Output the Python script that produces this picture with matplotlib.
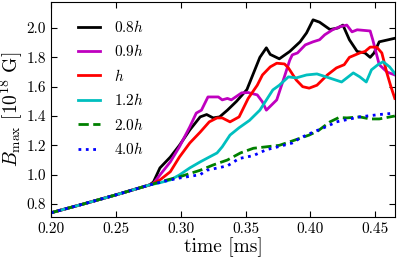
import numpy as np
import matplotlib
matplotlib.use('Agg')
from matplotlib import pyplot as plt

plt.rcParams['font.family'] = 'serif'
plt.rcParams['font.serif'] = ['cmr10']
plt.rcParams['mathtext.fontset'] = 'cm'
plt.rcParams['axes.unicode_minus'] = False
plt.rcParams['axes.formatter.use_mathtext'] = True

# common early growth, shared by all runs
t0 = [0.20, 0.225, 0.25, 0.276]
b0 = [0.74, 0.80, 0.862, 0.93]

t_08 = [0.279, 0.284, 0.292, 0.299, 0.307, 0.315, 0.320, 0.325, 0.330, 0.336, 0.343,
        0.351, 0.356, 0.361, 0.366, 0.369, 0.376, 0.384, 0.392, 0.397, 0.402, 0.407, 0.415,
        0.421, 0.425, 0.430, 0.436, 0.442, 0.446, 0.449, 0.453, 0.465]
b_08 = [0.95, 1.046, 1.12, 1.20, 1.305, 1.394, 1.41, 1.387, 1.394, 1.44, 1.50,
        1.58, 1.69, 1.80, 1.865, 1.82, 1.79, 1.84, 1.906, 1.967, 2.056, 2.04, 1.99,
        2.00, 2.02, 1.92, 1.84, 1.83, 1.80, 1.83, 1.906, 1.93]

t_09 = [0.279, 0.284, 0.292, 0.299, 0.307, 0.312, 0.316, 0.321, 0.329, 0.332, 0.336, 0.339,
        0.347, 0.352, 0.359, 0.363, 0.366, 0.374, 0.380, 0.384, 0.386, 0.390, 0.396, 0.402,
        0.407, 0.411, 0.417, 0.423, 0.428, 0.432, 0.436, 0.446, 0.448, 0.453, 0.459, 0.465]
b_09 = [0.94, 0.998, 1.087, 1.19, 1.326, 1.42, 1.44, 1.53, 1.53, 1.51, 1.52, 1.51,
        1.558, 1.56, 1.544, 1.496, 1.44, 1.51, 1.67, 1.78, 1.817, 1.83, 1.885, 1.906,
        1.92, 1.954, 1.988, 2.01, 2.02, 1.974, 1.988, 1.98, 1.92, 1.75, 1.70, 1.68]

t_10 = [0.279, 0.284, 0.292, 0.299, 0.307, 0.315, 0.322, 0.328, 0.332, 0.338, 0.345,
        0.352, 0.359, 0.363, 0.369, 0.374, 0.380, 0.383, 0.389, 0.394, 0.399, 0.405, 0.413,
        0.420, 0.426, 0.430, 0.438, 0.442, 0.446, 0.451, 0.455, 0.459, 0.462, 0.465]
b_10 = [0.94, 0.964, 1.02, 1.12, 1.216, 1.29, 1.36, 1.387, 1.387, 1.36, 1.394,
        1.52, 1.61, 1.68, 1.735, 1.76, 1.755, 1.728, 1.646, 1.60, 1.59, 1.61, 1.68,
        1.728, 1.75, 1.80, 1.83, 1.84, 1.87, 1.87, 1.83, 1.69, 1.60, 1.52]

t_12 = [0.284, 0.292, 0.299, 0.307, 0.315, 0.322, 0.328, 0.332, 0.338, 0.345, 0.353, 0.361,
        0.371, 0.376, 0.383, 0.389, 0.397, 0.405, 0.412, 0.424, 0.433, 0.438, 0.443, 0.447,
        0.452, 0.456, 0.461, 0.465]
b_12 = [0.945, 0.964, 0.998, 1.046, 1.087, 1.12, 1.148, 1.19, 1.27, 1.32, 1.37, 1.44,
        1.578, 1.61, 1.667, 1.66, 1.68, 1.687, 1.667, 1.632, 1.694, 1.667, 1.632, 1.715,
        1.75, 1.77, 1.735, 1.69]

t_20 = [0.290, 0.299, 0.315, 0.325, 0.336, 0.346, 0.356, 0.366, 0.376, 0.386, 0.399, 0.406,
        0.415, 0.422, 0.428, 0.438, 0.446, 0.453, 0.465]
b_20 = [0.965, 0.985, 1.03, 1.066, 1.10, 1.148, 1.18, 1.19, 1.20, 1.23, 1.27, 1.30,
        1.36, 1.39, 1.387, 1.394, 1.38, 1.38, 1.40]

t_40 = [0.290, 0.299, 0.315, 0.320, 0.336, 0.345, 0.356, 0.366, 0.375, 0.386, 0.392, 0.402,
        0.413, 0.420, 0.438, 0.453, 0.465]
b_40 = [0.96, 0.977, 1.00, 1.03, 1.06, 1.11, 1.13, 1.17, 1.19, 1.216, 1.25, 1.29,
        1.33, 1.36, 1.394, 1.41, 1.42]

runs = [(t_08, b_08, 'k', '-', r'$0.8h$'),
        (t_09, b_09, 'm', '-', r'$0.9h$'),
        (t_10, b_10, 'r', '-', r'$h$'),
        (t_12, b_12, 'c', '-', r'$1.2h$'),
        (t_20, b_20, 'g', '--', r'$2.0h$'),
        (t_40, b_40, 'b', ':', r'$4.0h$')]

fig = plt.figure(figsize=(3.98, 2.59), dpi=100)
ax = fig.add_axes([0.128, 0.162, 0.864, 0.83])

for t, b, c, ls, lab in runs:
    ax.plot(t0 + t, b0 + b, color=c, ls=ls, lw=2, label=lab)

ax.set_xlim(0.20, 0.465)
ax.set_ylim(0.711, 2.177)
ax.set_xticks([0.20, 0.25, 0.30, 0.35, 0.40, 0.45])
ax.set_yticks([0.8, 1.0, 1.2, 1.4, 1.6, 1.8, 2.0])
ax.set_xticklabels(['0.20', '0.25', '0.30', '0.35', '0.40', '0.45'])
ax.set_yticklabels(['0.8', '1.0', '1.2', '1.4', '1.6', '1.8', '2.0'])
ax.tick_params(direction='in', top=True, right=True, labelsize=11, length=4)
ax.set_xlabel('time [ms]', fontsize=14, labelpad=1)
ax.set_ylabel(r'$B_{\rm max}$ [$10^{18}$ G]', fontsize=14, labelpad=1)
ax.legend(loc='upper left', frameon=False, fontsize=11, handlelength=1.45,
          handletextpad=0.9, labelspacing=0.55, borderaxespad=0.0,
          bbox_to_anchor=(0.061, 0.95))

fig.savefig('out.png', dpi=100)
